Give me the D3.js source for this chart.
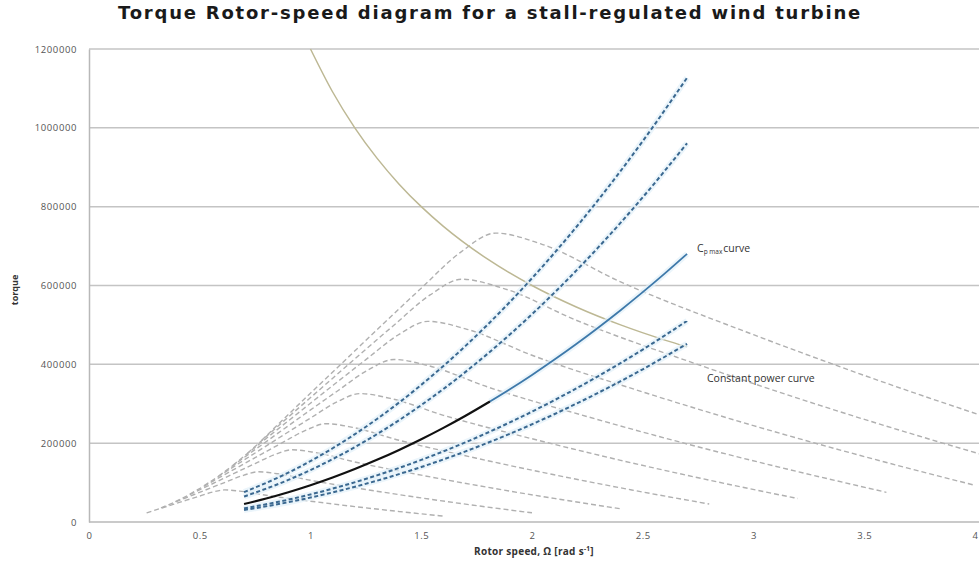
<!DOCTYPE html>
<html>
<head>
<meta charset="utf-8">
<script src="https://cdn.jsdelivr.net/npm/d3@7"></script>
<style>
  body { margin: 0; background: #fff; }
  text { font-family: 'Open Sans', sans-serif; }
</style>
</head>
<body>
<div id="chart"></div>
<script>
// y ticks and x ticks
var yTicks = [0, 200000, 400000, 600000, 800000, 1000000, 1200000];
var xTicks = [0, 0.5, 1, 1.5, 2, 2.5, 3, 3.5, 4];

// stall torque curves, one per wind speed (grey dashed)
var v04_omega = [0.26, 0.32, 0.38, 0.44, 0.5, 0.56, 0.612, 0.68, 0.8, 1.0, 1.2, 1.4, 1.6];
var v04_torque = [23000, 34000, 44600, 55400, 65900, 76200, 81400, 78400, 67700, 52800, 39100, 26600, 14900];
var v05_omega = [0.325, 0.4, 0.475, 0.55, 0.625, 0.7, 0.765, 0.85, 1.0, 1.25, 1.5, 1.75, 2.0];
var v05_torque = [36000, 53000, 69800, 86500, 103000, 119000, 127300, 122500, 105800, 82500, 61100, 41500, 23300];
var v06_omega = [0.39, 0.48, 0.57, 0.66, 0.75, 0.84, 0.918, 1.02, 1.2, 1.5, 1.8, 2.1, 2.4];
var v06_torque = [51800, 76300, 100400, 124600, 148300, 171400, 183200, 176400, 152300, 118800, 88000, 59800, 33500];
var v07_omega = [0.455, 0.56, 0.665, 0.77, 0.875, 0.98, 1.071, 1.19, 1.4, 1.75, 2.1, 2.45, 2.8];
var v07_torque = [70600, 103900, 136700, 169500, 201900, 233200, 249400, 240100, 207300, 161700, 119800, 81300, 45600];
var v08_omega = [0.52, 0.64, 0.76, 0.88, 1.0, 1.12, 1.224, 1.36, 1.6, 2.0, 2.4, 2.8, 3.2];
var v08_torque = [92200, 135700, 178600, 221400, 263700, 304600, 325800, 313600, 270700, 211200, 156500, 106200, 59500];
var v09_omega = [0.585, 0.72, 0.855, 0.99, 1.125, 1.26, 1.377, 1.53, 1.8, 2.25, 2.7, 3.15, 3.6];
var v09_torque = [116600, 171700, 226000, 280300, 333700, 385600, 412300, 396900, 342600, 267300, 198000, 134500, 75300];
var v10_omega = [0.65, 0.8, 0.95, 1.1, 1.25, 1.4, 1.53, 1.7, 2.0, 2.5, 3.0, 3.5, 4.0];
var v10_torque = [144000, 212000, 279000, 346000, 412000, 476000, 509000, 490000, 423000, 330000, 244500, 166000, 93000];
var v11_omega = [0.715, 0.88, 1.045, 1.21, 1.375, 1.54, 1.683, 1.87, 2.2, 2.75, 3.3, 3.85, 4.4];
var v11_torque = [174200, 256500, 337600, 418700, 498500, 576000, 615900, 592900, 511800, 399300, 295800, 200900, 112500];
var v12_omega = [0.78, 0.96, 1.14, 1.32, 1.5, 1.68, 1.836, 2.04, 2.4, 3.0, 3.6, 4.2, 4.8];
var v12_torque = [207400, 305300, 401800, 498200, 593300, 685400, 733000, 705600, 609100, 475200, 352100, 239000, 133900];

// fixed tip speed ratio lines (blue dashed)
var tsr_omega = [0.7, 0.9, 1.1, 1.3, 1.5, 1.7, 1.9, 2.1, 2.3, 2.5, 2.7];
var tsr1_torque = [75800, 125200, 187100, 261300, 347900, 446800, 558100, 681800, 817800, 966300, 1127000];
var tsr2_torque = [64600, 106800, 159500, 222700, 296600, 380900, 475800, 581200, 697200, 823800, 960800];
var tsr4_torque = [34300, 56700, 84700, 118300, 157500, 202300, 252700, 308700, 370300, 437500, 510300];
var tsr5_torque = [30400, 50200, 75000, 104800, 139500, 179200, 223800, 273400, 328000, 387500, 452000];

// Cp max curve: black part then blue part
var cpLow_omega = [0.7, 0.8, 0.9, 1.0, 1.1, 1.2, 1.3, 1.4, 1.5, 1.6, 1.7, 1.81];
var cpLow_torque = [45700, 59700, 75600, 93300, 112900, 134400, 157700, 182900, 209900, 238800, 269600, 305700];
var cpHigh_omega = [1.81, 1.9, 2.0, 2.1, 2.2, 2.3, 2.4, 2.5, 2.6, 2.7];
var cpHigh_torque = [305700, 336800, 373200, 411500, 451600, 493600, 537400, 583100, 630700, 680200];

// constant power curve
var cp_omega = [1.0, 1.1, 1.2, 1.3, 1.4, 1.5, 1.6, 1.8, 2.0, 2.2, 2.4, 2.6, 2.7];
var cp_torque = [1200000, 1090900, 1000000, 923100, 857100, 800000, 750000, 666700, 600000, 545500, 500000, 461500, 444400];

function zip(a, b) {
    return a.map(function (d, i) { return [d, b[i]]; });
}

var W = 979, H = 565;
var margin = { top: 49, right: 4, bottom: 43, left: 89 };

var svg = d3.select('#chart')
    .append('svg')
    .attr('width', W)
    .attr('height', H);

var x = d3.scaleLinear().domain([0, 4]).range([margin.left, W - margin.right]);
var y = d3.scaleLinear().domain([0, 1200000]).range([H - margin.bottom, margin.top]);

svg.append('clipPath').attr('id', 'plot')
    .append('rect')
    .attr('x', margin.left).attr('y', 0)
    .attr('width', W - margin.left).attr('height', H - margin.bottom);

// gridlines
svg.append('g')
    .selectAll('line')
    .data(yTicks.slice(1))
    .enter()
    .append('line')
    .attr('x1', margin.left)
    .attr('x2', W)
    .attr('y1', function (d) { return y(d); })
    .attr('y2', function (d) { return y(d); })
    .attr('stroke', '#c4c4c4')
    .attr('stroke-width', 1.5);

// axes
var yAxis = svg.append('g')
    .attr('transform', 'translate(' + margin.left + ',0)')
    .call(d3.axisLeft(y).tickValues(yTicks).tickSize(0).tickPadding(12).tickFormat(d3.format('d')));
var xAxis = svg.append('g')
    .attr('transform', 'translate(0,' + y(0) + ')')
    .call(d3.axisBottom(x).tickValues(xTicks).tickSize(0).tickPadding(10).tickFormat(function (d) { return d; }));
[yAxis, xAxis].forEach(function (a) {
    a.select('.domain').attr('stroke', '#b8b8b8').attr('stroke-width', 1.5);
    a.selectAll('text')
        .attr('font-size', 9.5)
        .attr('fill', '#555')
        .style('letter-spacing', '0.6px');
});
xAxis.select('.domain').attr('d', 'M' + margin.left + ',0H' + W);

var line = d3.line()
    .x(function (d) { return x(d[0]); })
    .y(function (d) { return y(d[1]); })
    .curve(d3.curveMonotoneX);

var plot = svg.append('g').attr('clip-path', 'url(#plot)');

var greySeries = [
    zip(v04_omega, v04_torque), zip(v05_omega, v05_torque), zip(v06_omega, v06_torque),
    zip(v07_omega, v07_torque), zip(v08_omega, v08_torque), zip(v09_omega, v09_torque),
    zip(v10_omega, v10_torque), zip(v11_omega, v11_torque), zip(v12_omega, v12_torque)
];
plot.selectAll('.stall')
    .data(greySeries)
    .enter()
    .append('path')
    .attr('class', 'stall')
    .attr('d', line)
    .attr('fill', 'none')
    .attr('stroke', '#b0b0b0')
    .attr('stroke-width', 1.4)
    .attr('stroke-dasharray', '5,3');

// constant power curve
plot.append('path')
    .attr('d', line(zip(cp_omega, cp_torque)))
    .attr('fill', 'none')
    .attr('stroke', '#bdb894')
    .attr('stroke-width', 1.5);

// blue dashed lines, with a soft glow underneath
var blueSeries = [
    zip(tsr_omega, tsr1_torque), zip(tsr_omega, tsr2_torque),
    zip(tsr_omega, tsr4_torque), zip(tsr_omega, tsr5_torque)
];
plot.selectAll('.glow')
    .data(blueSeries.concat([zip(cpHigh_omega, cpHigh_torque)]))
    .enter()
    .append('path')
    .attr('class', 'glow')
    .attr('d', line)
    .attr('fill', 'none')
    .attr('stroke', '#e3f1fa')
    .attr('stroke-width', 6)
    .attr('stroke-opacity', 0.7);
plot.selectAll('.tsr')
    .data(blueSeries)
    .enter()
    .append('path')
    .attr('class', 'tsr')
    .attr('d', line)
    .attr('fill', 'none')
    .attr('stroke', '#3a6890')
    .attr('stroke-width', 2)
    .attr('stroke-dasharray', '4,2.5');

// Cp max curve
plot.append('path')
    .attr('d', line(zip(cpHigh_omega, cpHigh_torque)))
    .attr('fill', 'none')
    .attr('stroke', '#3e79aa')
    .attr('stroke-width', 1.8);
plot.append('path')
    .attr('d', line(zip(cpLow_omega, cpLow_torque)))
    .attr('fill', 'none')
    .attr('stroke', '#111')
    .attr('stroke-width', 2.2);

// labels in the plot
var cpLabel = svg.append('text')
    .attr('x', 697)
    .attr('y', 252)
    .attr('font-size', 10.5)
    .attr('fill', '#333');
cpLabel.append('tspan').text('C');
cpLabel.append('tspan').attr('font-size', 6.5).attr('dy', 2).text('p max');
cpLabel.append('tspan').attr('dy', -2).attr('dx', 1).text('curve');

svg.append('text')
    .attr('x', 707)
    .attr('y', 382)
    .attr('font-size', 10.5)
    .attr('fill', '#333')
    .text('Constant power curve');

// title
var title = svg.append('text')
    .attr('x', 490)
    .attr('y', 19)
    .attr('text-anchor', 'middle')
    .attr('font-size', 18)
    .attr('font-weight', 'bold')
    .attr('fill', '#1a1a1a')
    .style('font-family', "'DejaVu Sans', sans-serif")
    .text('Torque Rotor-speed diagram for a stall-regulated wind turbine');
var tw = title.node().getComputedTextLength();
var nChars = title.text().length;
title.style('letter-spacing', Math.max(0, (744 - tw) / nChars) + 'px');

// axis titles
var xt = svg.append('text')
    .attr('x', 534)
    .attr('y', 555)
    .attr('text-anchor', 'middle')
    .attr('font-size', 10)
    .attr('font-weight', 'bold')
    .attr('fill', '#333')
    .style('letter-spacing', '0.3px');
xt.append('tspan').text('Rotor speed,  \u03A9 [rad s');
xt.append('tspan').attr('font-size', 6.5).attr('dy', -4).text('-1');
xt.append('tspan').attr('dy', 4).text(']');

svg.append('text')
    .attr('transform', 'translate(18,290) rotate(-90)')
    .attr('text-anchor', 'middle')
    .attr('font-size', 9)
    .attr('font-weight', 'bold')
    .attr('fill', '#333')
    .text('torque');
</script>
</body>
</html>
